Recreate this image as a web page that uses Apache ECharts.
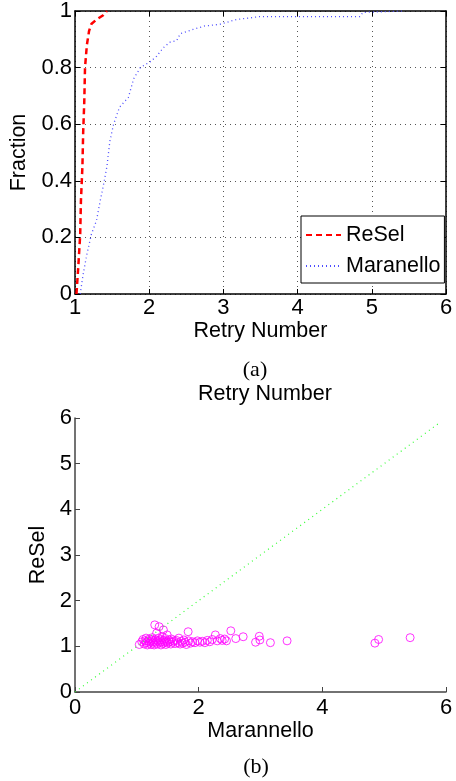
<!DOCTYPE html>
<html>
<head>
<meta charset="utf-8">
<script src="https://cdn.jsdelivr.net/npm/echarts@6/dist/echarts.min.js"></script>
<style>
  html, body { margin: 0; padding: 0; background: #fff; }
  #chart { width: 456px; height: 781px; }
</style>
</head>
<body>
<div id="chart"></div>
<script>
// (a) CDF of retry number: [retry number, fraction]
const reselCdf = [
    [1.02, 0], [1.045, 0.1], [1.07, 0.21], [1.08, 0.33], [1.1, 0.45],
    [1.11, 0.57], [1.125, 0.68], [1.135, 0.8], [1.16, 0.88], [1.19, 0.93],
    [1.22, 0.954], [1.29, 0.97], [1.38, 0.985], [1.43, 1.0],
];
const maranelloCdf = [
    [1.07, 0], [1.11, 0.07], [1.16, 0.14], [1.22, 0.21], [1.29, 0.26],
    [1.34, 0.33], [1.38, 0.38], [1.43, 0.45], [1.47, 0.54], [1.52, 0.6],
    [1.56, 0.63], [1.6, 0.66], [1.72, 0.695], [1.79, 0.76], [1.88, 0.8],
    [2.01, 0.82], [2.1, 0.84], [2.19, 0.87], [2.28, 0.89], [2.37, 0.895],
    [2.42, 0.92], [2.59, 0.935], [2.75, 0.947], [2.95, 0.953], [3.18, 0.97],
    [3.4, 0.977], [3.47, 0.98], [4.84, 0.98], [4.88, 0.995], [5.41, 1.0],
];

// (b) per-case retry number: [Marannello, ReSel]
const scatterPoints = [
    [1.04, 1.04], [1.08, 1.10], [1.10, 1.15], [1.12, 1.05], [1.13, 1.12],
    [1.15, 1.08], [1.15, 1.18], [1.17, 1.03], [1.18, 1.12], [1.20, 1.07],
    [1.20, 1.16], [1.22, 1.10], [1.23, 1.04], [1.24, 1.14], [1.25, 1.19],
    [1.26, 1.07], [1.27, 1.11], [1.28, 1.03], [1.29, 1.47], [1.30, 1.15],
    [1.31, 1.09], [1.32, 1.29], [1.33, 1.05], [1.34, 1.12], [1.35, 1.18],
    [1.36, 1.43], [1.37, 1.08], [1.38, 1.14], [1.39, 1.03], [1.40, 1.10],
    [1.41, 1.22], [1.42, 1.06], [1.43, 1.36], [1.44, 1.13], [1.45, 1.09],
    [1.46, 1.17], [1.47, 1.04], [1.48, 1.11], [1.49, 1.25], [1.50, 1.07],
    [1.52, 1.14], [1.53, 1.10], [1.55, 1.05], [1.56, 1.16], [1.58, 1.09],
    [1.60, 1.12], [1.62, 1.06], [1.64, 1.13], [1.66, 1.08], [1.68, 1.18],
    [1.70, 1.05], [1.72, 1.11], [1.74, 1.07], [1.76, 1.14], [1.78, 1.09],
    [1.80, 1.04], [1.83, 1.32], [1.84, 1.12], [1.87, 1.07], [1.90, 1.10],
    [1.94, 1.08], [1.98, 1.12], [2.02, 1.09], [2.06, 1.11], [2.10, 1.08],
    [2.14, 1.13], [2.18, 1.10], [2.22, 1.15], [2.27, 1.25], [2.30, 1.12],
    [2.35, 1.17], [2.38, 1.13], [2.42, 1.16], [2.45, 1.12], [2.52, 1.34],
    [2.60, 1.17], [2.72, 1.21], [2.92, 1.09], [2.98, 1.22], [2.99, 1.14],
    [3.16, 1.08], [3.43, 1.12], [4.85, 1.07], [4.91, 1.15], [5.42, 1.19],
];
const diagonal = [[0, 0], [5.9, 5.9]];

const sans = "Liberation Sans, Arial, sans-serif";
const serif = "Liberation Serif, Times New Roman, serif";

const chart = echarts.init(document.getElementById("chart"));

const labelStyle = { color: "#000", fontFamily: sans, fontSize: 22 };
const nameStyle = { color: "#000", fontFamily: sans, fontSize: 21.5 };
const captionStyle = { fontFamily: serif, fontSize: 22, fontWeight: "normal", color: "#000" };

const option = {
    animation: false,
    title: [
        { text: "(a)", left: 250, top: 354, textAlign: "center", textStyle: captionStyle },
        {
            text: "Retry Number", left: 260, top: 378, textAlign: "center",
            textStyle: { fontFamily: sans, fontSize: 21.5, fontWeight: "normal", color: "#000" },
        },
        { text: "(b)", left: 251, top: 751, textAlign: "center", textStyle: captionStyle },
    ],
    legend: {
        data: ["ReSel", "Maranello"],
        orient: "vertical",
        left: 301,
        top: 216,
        padding: [8, 4, 6, 4],
        itemGap: 9,
        itemWidth: 35,
        itemHeight: 14,
        borderColor: "#000",
        borderWidth: 1,
        backgroundColor: "#fff",
        itemStyle: { opacity: 0 },
        textStyle: { fontFamily: sans, fontSize: 21.5, color: "#000" },
    },
    grid: [
        { left: 75, top: 10, width: 371, height: 284 },
        { left: 75, top: 418, width: 371, height: 274 },
    ],
    xAxis: [
        {
            gridIndex: 0, type: "value", min: 1, max: 6, interval: 1,
            name: "Retry Number", nameLocation: "middle", nameGap: 22,
            nameTextStyle: nameStyle,
            axisLine: { onZero: false, lineStyle: { color: "#000", width: 1.5 } },
            axisTick: { inside: true, length: 5, lineStyle: { color: "#000" } },
            axisLabel: Object.assign({ margin: 3 }, labelStyle),
            splitLine: { show: true, lineStyle: { type: [1, 4], color: "#555" } },
        },
        {
            gridIndex: 0, type: "value", min: 1, max: 6, interval: 1, position: "top",
            axisLine: { onZero: false, lineStyle: { color: "#000", width: 1.5 } },
            axisTick: { inside: true, length: 5, lineStyle: { color: "#000" } },
            axisLabel: { show: false },
            splitLine: { show: false },
        },
        {
            gridIndex: 1, type: "value", min: 0, max: 6, interval: 2,
            name: "Marannello", nameLocation: "middle", nameGap: 25,
            nameTextStyle: nameStyle,
            axisLine: { onZero: false, lineStyle: { color: "#444", width: 1.5 } },
            axisTick: { inside: true, length: 5, lineStyle: { color: "#444" } },
            axisLabel: Object.assign({ margin: 5 }, labelStyle),
            splitLine: { show: false },
        },
    ],
    yAxis: [
        {
            gridIndex: 0, type: "value", min: 0, max: 1, interval: 0.2,
            name: "Fraction", nameLocation: "middle", nameGap: 39,
            nameTextStyle: nameStyle,
            axisLine: { onZero: false, lineStyle: { color: "#000", width: 1.5 } },
            axisTick: { inside: true, length: 5, lineStyle: { color: "#000" } },
            axisLabel: Object.assign({ margin: 3 }, labelStyle),
            splitLine: { show: true, lineStyle: { type: [1, 4], color: "#555" } },
        },
        {
            gridIndex: 0, type: "value", min: 0, max: 1, interval: 0.2, position: "right",
            axisLine: { onZero: false, lineStyle: { color: "#000", width: 1.5 } },
            axisTick: { inside: true, length: 5, lineStyle: { color: "#000" } },
            axisLabel: { show: false },
            splitLine: { show: false },
        },
        {
            gridIndex: 1, type: "value", min: 0, max: 6, interval: 1,
            name: "ReSel", nameLocation: "middle", nameGap: 22,
            nameTextStyle: nameStyle,
            axisLine: { onZero: false, lineStyle: { color: "#444", width: 1.5 } },
            axisTick: { inside: true, length: 5, lineStyle: { color: "#444" } },
            axisLabel: Object.assign({ margin: 3 }, labelStyle),
            splitLine: { show: false },
        },
    ],
    series: [
        {
            name: "ReSel", type: "line", xAxisIndex: 0, yAxisIndex: 0,
            data: reselCdf, showSymbol: false, symbol: "none",
            lineStyle: { color: "#ff0000", width: 2.5, type: [6, 4] },
            itemStyle: { color: "#ff0000" },
            z: 3,
        },
        {
            name: "Maranello", type: "line", xAxisIndex: 0, yAxisIndex: 0,
            data: maranelloCdf, showSymbol: false, symbol: "none",
            lineStyle: { color: "#4d4dff", width: 1.3, type: [1, 3] },
            itemStyle: { color: "#4d4dff" },
            z: 2,
        },
        {
            name: "diag", type: "line", xAxisIndex: 2, yAxisIndex: 2,
            data: diagonal, showSymbol: false, symbol: "none",
            lineStyle: { color: "#33ff33", width: 1.2, type: [1, 4] },
        },
        {
            name: "cases", type: "scatter", xAxisIndex: 2, yAxisIndex: 2,
            data: scatterPoints, symbol: "circle", symbolSize: 8,
            itemStyle: { color: "rgba(255,255,255,0)", borderColor: "#ff00ff", borderWidth: 1 },
        },
    ],
};

chart.setOption(option);
</script>
</body>
</html>
